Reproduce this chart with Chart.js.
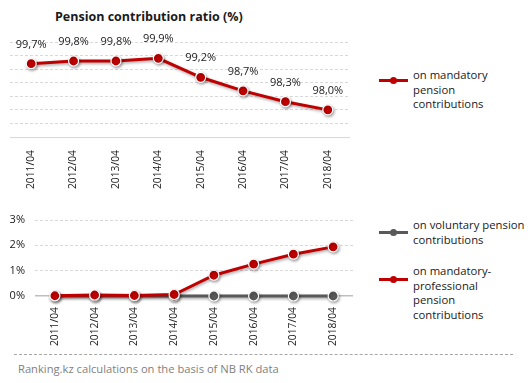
<!DOCTYPE html>
<html><head><meta charset="utf-8">
<script src="https://cdn.jsdelivr.net/npm/chart.js@4/dist/chart.umd.min.js"></script>
<style>
html,body{margin:0;padding:0;background:#fff;}
body{width:532px;height:383px;position:relative;overflow:hidden;font-family:"Open Sans","Noto Sans",sans-serif;color:#1a1a1a;}
.abs{position:absolute;}
#title{left:55px;top:8px;font-weight:bold;font-size:12.5px;white-space:nowrap;}
.leg{position:absolute;font-size:11.3px;line-height:14.6px;}
.legline{position:absolute;width:29px;height:3px;}
.legdot{position:absolute;width:7px;height:7px;border-radius:50%;}
#footline{left:14px;top:354px;width:499px;border-top:1px dashed #a6a6a6;}
#foot{left:18px;top:361px;font-size:11.2px;color:#7f7f7f;white-space:nowrap;}
</style></head>
<body>
<div id="title" class="abs">Pension contribution ratio (%)</div>
<div class="abs" style="left:0;top:0;width:360px;height:195px;"><canvas id="c1" width="360" height="195"></canvas></div>
<div class="abs" style="left:0;top:200px;width:360px;height:150px;"><canvas id="c2" width="360" height="150"></canvas></div>

<div class="legline" style="left:379px;top:79px;background:#c00000"></div><div class="legdot" style="left:390px;top:77px;background:#c00000"></div>
<div class="leg" style="left:413px;top:68px;">on mandatory<br>pension<br>contributions</div>

<div class="legline" style="left:379px;top:231px;background:#595959"></div><div class="legdot" style="left:390px;top:229px;background:#595959"></div>
<div class="leg" style="left:413px;top:218px;">on voluntary pension<br>contributions</div>

<div class="legline" style="left:379px;top:278px;background:#c00000"></div><div class="legdot" style="left:390px;top:276px;background:#c00000"></div>
<div class="leg" style="left:413px;top:264px;">on mandatory-<br>professional<br>pension<br>contributions</div>

<div id="footline" class="abs"></div>
<div id="foot" class="abs">Ranking.kz calculations on the basis of NB RK data</div>

<script>
const categories = ["2011/04","2012/04","2013/04","2014/04","2015/04","2016/04","2017/04","2018/04"];
const mandatory = [99.7, 99.8, 99.8, 99.9, 99.2, 98.7, 98.3, 98.0];
const voluntary = [0, 0, 0, 0, 0, 0, 0, 0];
const mandatoryProfessional = [0.01, 0.04, 0.02, 0.06, 0.82, 1.26, 1.65, 1.94];
const mandatoryLabels = ["99,7%","99,8%","99,8%","99,9%","99,2%","98,7%","98,3%","98,0%"];
const bottomTicks = [0, 1, 2, 3];

const RED = "#c00000", GREY = "#595959";
const FONT = "'Open Sans','Noto Sans',sans-serif";

const shadowPlugin = {
  id: "shadow",
  beforeDatasetsDraw(chart){ const c=chart.ctx; c.save(); c.shadowColor="rgba(0,0,0,0.35)"; c.shadowBlur=3; c.shadowOffsetX=1; c.shadowOffsetY=1.5; },
  afterDatasetsDraw(chart){ chart.ctx.restore(); }
};
const labelPlugin = {
  id: "vlabels",
  afterDatasetsDraw(chart){
    const meta = chart.getDatasetMeta(0); const c = chart.ctx;
    c.save(); c.font = "11px " + FONT; c.fillStyle = "#1a1a1a"; c.textAlign = "center"; c.textBaseline = "middle";
    meta.data.forEach((p,i)=>{ c.fillText(mandatoryLabels[i], p.x, p.y - 19); });
    c.restore();
  }
};

function ds(label, data, color, order){
  return {label, data, order, clip: false, borderColor: color, backgroundColor: color, borderWidth: 3,
    pointRadius: 5, pointHoverRadius: 5, pointBorderColor: "#fff", pointBorderWidth: 1.2, tension: 0};
}

new Chart(document.getElementById("c1"), {
  type: "line",
  data: {labels: categories, datasets: [ds("on mandatory pension contributions", mandatory, RED, 0)]},
  options: {
    responsive: false, animation: false, events: [],
    layout: {padding: {left: 10, right: 11, top: 42, bottom: 0}},
    plugins: {legend: {display: false}, tooltip: {enabled: false}},
    scales: {
      x: {offset: true, grid: {display: false}, border: {display: true, color: "#d9d9d9"},
          ticks: {font: {family: FONT, size: 10.3}, color: "#1a1a1a", minRotation: 90, maxRotation: 90, padding: 5, autoSkip: false},
          afterFit(s){ s.height = 58; }},
      y: {min: 97, max: 100.5, ticks: {display: false, stepSize: 0.5},
          grid: {drawTicks: false, color: (ctx)=> ctx.tick && ctx.tick.value === 97 ? "rgba(0,0,0,0)" : "#d9d9d9"},
          border: {display: false, dash: [3, 2]},
          afterFit(s){ s.width = 0; }}
    }
  },
  plugins: [shadowPlugin, labelPlugin]
});

new Chart(document.getElementById("c2"), {
  type: "line",
  data: {labels: categories, datasets: [
    ds("on voluntary pension contributions", voluntary, GREY, 1),
    ds("on mandatory-professional pension contributions", mandatoryProfessional, RED, 0)
  ]},
  options: {
    responsive: false, animation: false, events: [],
    layout: {padding: {left: 0, right: 7, top: 20, bottom: 0}},
    plugins: {legend: {display: false}, tooltip: {enabled: false}},
    scales: {
      x: {offset: true, grid: {display: false}, border: {display: false},
          ticks: {font: {family: FONT, size: 10.3}, color: "#1a1a1a", minRotation: 90, maxRotation: 90, padding: 3, autoSkip: false},
          afterFit(s){ s.height = 54; }},
      y: {min: 0, max: 3, afterBuildTicks(s){ s.ticks = bottomTicks.map(v=>({value:v})); },
          ticks: {font: {family: FONT, size: 11}, color: "#1a1a1a", padding: 10, callback: v => v + "%"},
          grid: {drawTicks: false, color: (ctx)=> ctx.tick && ctx.tick.value === 0 ? "#bfbfbf" : "#d9d9d9", lineWidth: (ctx)=> ctx.tick && ctx.tick.value === 0 ? 1.5 : 1},
          border: {display: false, dash: (ctx)=> ctx.tick && ctx.tick.value === 0 ? [] : [3, 2]},
          afterFit(s){ s.width = 35; }}
    }
  },
  plugins: [shadowPlugin]
});
</script>
</body></html>
